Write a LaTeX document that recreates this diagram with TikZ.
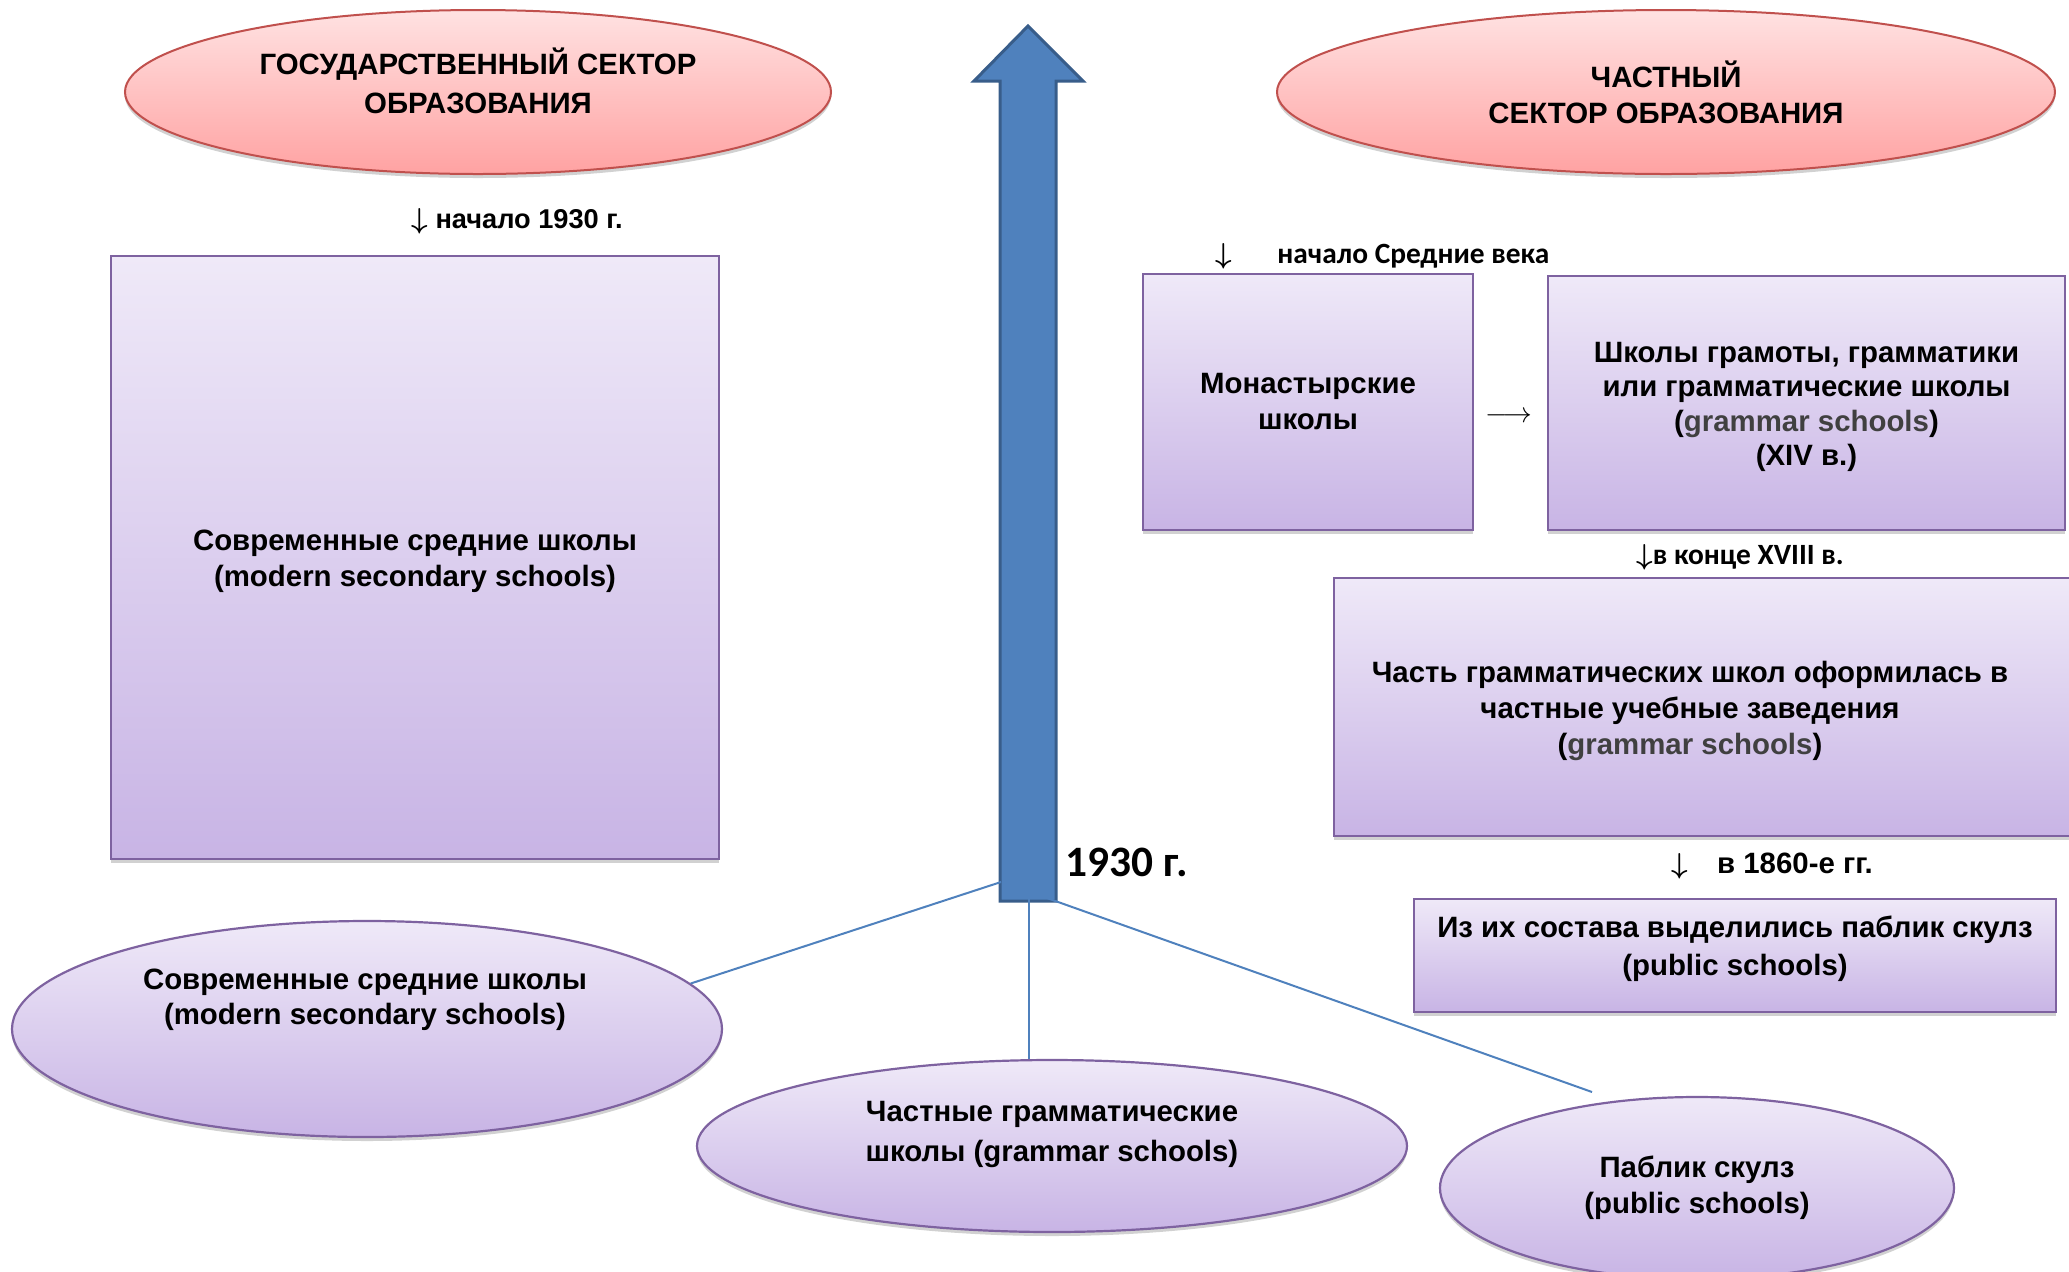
\documentclass[tikz,border=0pt]{standalone}
\usepackage{fontspec}
\setmainfont{Liberation Sans}
\newfontfamily\calfont{Carlito}
\usetikzlibrary{shapes.geometric,shadows,positioning}

\definecolor{boxtop}{HTML}{EFE9F8}
\definecolor{boxbot}{HTML}{C8B4E5}
\definecolor{boxline}{HTML}{7E62A0}
\definecolor{redtop}{HTML}{FFE2E2}
\definecolor{redbot}{HTML}{FFA2A2}
\definecolor{redline}{HTML}{C0504D}
\definecolor{arrowfill}{HTML}{4F81BD}
\definecolor{arrowline}{HTML}{385D8A}
\definecolor{engray}{HTML}{404040}

\tikzset{
  softshadow/.style={drop shadow={shadow xshift=0pt, shadow yshift=-2pt, opacity=0.18, fill=black}},
  redell/.style={ellipse, draw=redline, line width=1pt, top color=redtop, bottom color=redbot, inner sep=0pt, softshadow},
  purpbox/.style={rectangle, draw=boxline, line width=1.1pt, top color=boxtop, bottom color=boxbot, inner sep=0pt, softshadow},
  purpell/.style={ellipse, draw=boxline, line width=1.1pt, top color=boxtop, bottom color=boxbot, inner sep=0pt, softshadow},
  txt/.style={align=center, font=\bfseries\fontsize{14.7}{18}\selectfont},
  caltxt/.style={font=\calfont\bfseries\fontsize{14.7}{17}\selectfont},
  link/.style={draw=arrowfill, line width=1pt},
}
\newcommand{\engl}[1]{(\textcolor{engray}{#1})}
\newcommand{\darr}{{\boldmath$\downarrow$}}

\begin{document}
\begin{tikzpicture}[x=0.5pt, y=-0.5pt] % pixel grid, y down
  \useasboundingbox (0,0) rectangle (2069,1271);

  % sector titles
  \node[redell, minimum width=353pt, minimum height=82pt] (statesec) at (478,92) {};
  \node[txt, font=\bfseries\fontsize{14.7}{19.5}\selectfont] (statetxt) at (478,81) {ГОСУДАРСТВЕННЫЙ СЕКТОР\\ОБРАЗОВАНИЯ};
  \node[redell, txt, minimum width=389pt, minimum height=82pt] (privsec) at (1666,92) {ЧАСТНЫЙ\\СЕКТОР ОБРАЗОВАНИЯ};

  % state side
  \node[txt, font=\bfseries\fontsize{13.6}{16}\selectfont] (start1930) at (517,221) {\darr\ начало 1930 г.};
  \node[purpbox, minimum width=304pt, minimum height=301.5pt] (secbox) at (415,557.5) {};
  \node[txt] (secboxtxt) at (415,561) {Современные средние школы\\(modern secondary schools)};

  % private side
  \node[font=\fontsize{15}{17}\selectfont] (midarrow) at (1224,256) {\darr};
  \node[caltxt, anchor=west, inner sep=0pt] (midages) at (1277,256) {начало Средние века};
  \node[purpbox, txt, minimum width=165pt, minimum height=128pt] (monbox) at (1308,402) {Монастырские\\школы};
  \node[purpbox, minimum width=258.5pt, minimum height=127pt] (grambox) at (1806.5,403) {};
  \node[txt, font=\bfseries\fontsize{14.7}{17.2}\selectfont] (gramboxtxt) at (1806.5,407)
    {Школы грамоты, грамматики\\или грамматические школы\\\engl{grammar schools}\\(XIV в.)};
  \node[font=\fontsize{14}{16}\selectfont] (monarrow) at (1509,417) {$\longrightarrow$};
  \node[caltxt] (late18) at (1740,557) {\darr в конце XVIII в.};
  \node[purpbox, minimum width=380.5pt, minimum height=129pt] (partbox) at (1714.5,707) {};
  \node[txt] (parttxt) at (1690,711)
    {Часть грамматических школ оформилась в\\частные учебные заведения\\\engl{grammar schools}};
  \node[txt] (in1860) at (1772,866) {\darr\quad в 1860-е гг.};
  \node[purpbox, minimum width=321pt, minimum height=56.5pt] (pubbox) at (1735,955.5) {};
  \node[txt, font=\bfseries\fontsize{14.7}{19}\selectfont] (pubboxtxt) at (1735,949)
    {Из их состава выделились паблик скулз\\(public schools)};

  % timeline arrow
  \draw[draw=arrowline, fill=arrowfill, line width=1.5pt]
    (1000,901) -- (1000,81) -- (974,81) -- (1028,26) -- (1083,81) -- (1056,81) -- (1056,901) -- cycle;
  \node[caltxt, font=\calfont\bfseries\fontsize{21.7}{24}\selectfont, anchor=base west, inner sep=0pt] (year1930) at (1065,876) {1930 г.};
  \coordinate (hubL) at (1001,882);
  \coordinate (hubM) at (1029,860);
  \coordinate (hubR) at (1030,892);
  \coordinate (pubend) at (1592,1092);

  % results after 1930
  \node[purpell, minimum width=355pt, minimum height=108pt] (modell) at (367,1029) {};
  \node[txt, font=\bfseries\fontsize{14.7}{17.5}\selectfont] (modtxt) at (365,1000) {Современные средние школы\\(modern secondary schools)};
  \node[purpell, minimum width=355pt, minimum height=86pt] (gramell) at (1052,1146) {};
  \node[txt, font=\bfseries\fontsize{14.7}{20}\selectfont] (gramtxt) at (1052,1134) {Частные грамматические\\школы (grammar schools)};
  \node[purpell, txt, minimum width=257pt, minimum height=91pt] (pubell) at (1697,1188) {Паблик скулз\\(public schools)};

  \draw[link] (hubL) -- (modell.8);
  \draw[link] (hubM) -- (hubM |- gramell.north);
  \draw[link] (hubR) -- (pubend);
\end{tikzpicture}
\end{document}
